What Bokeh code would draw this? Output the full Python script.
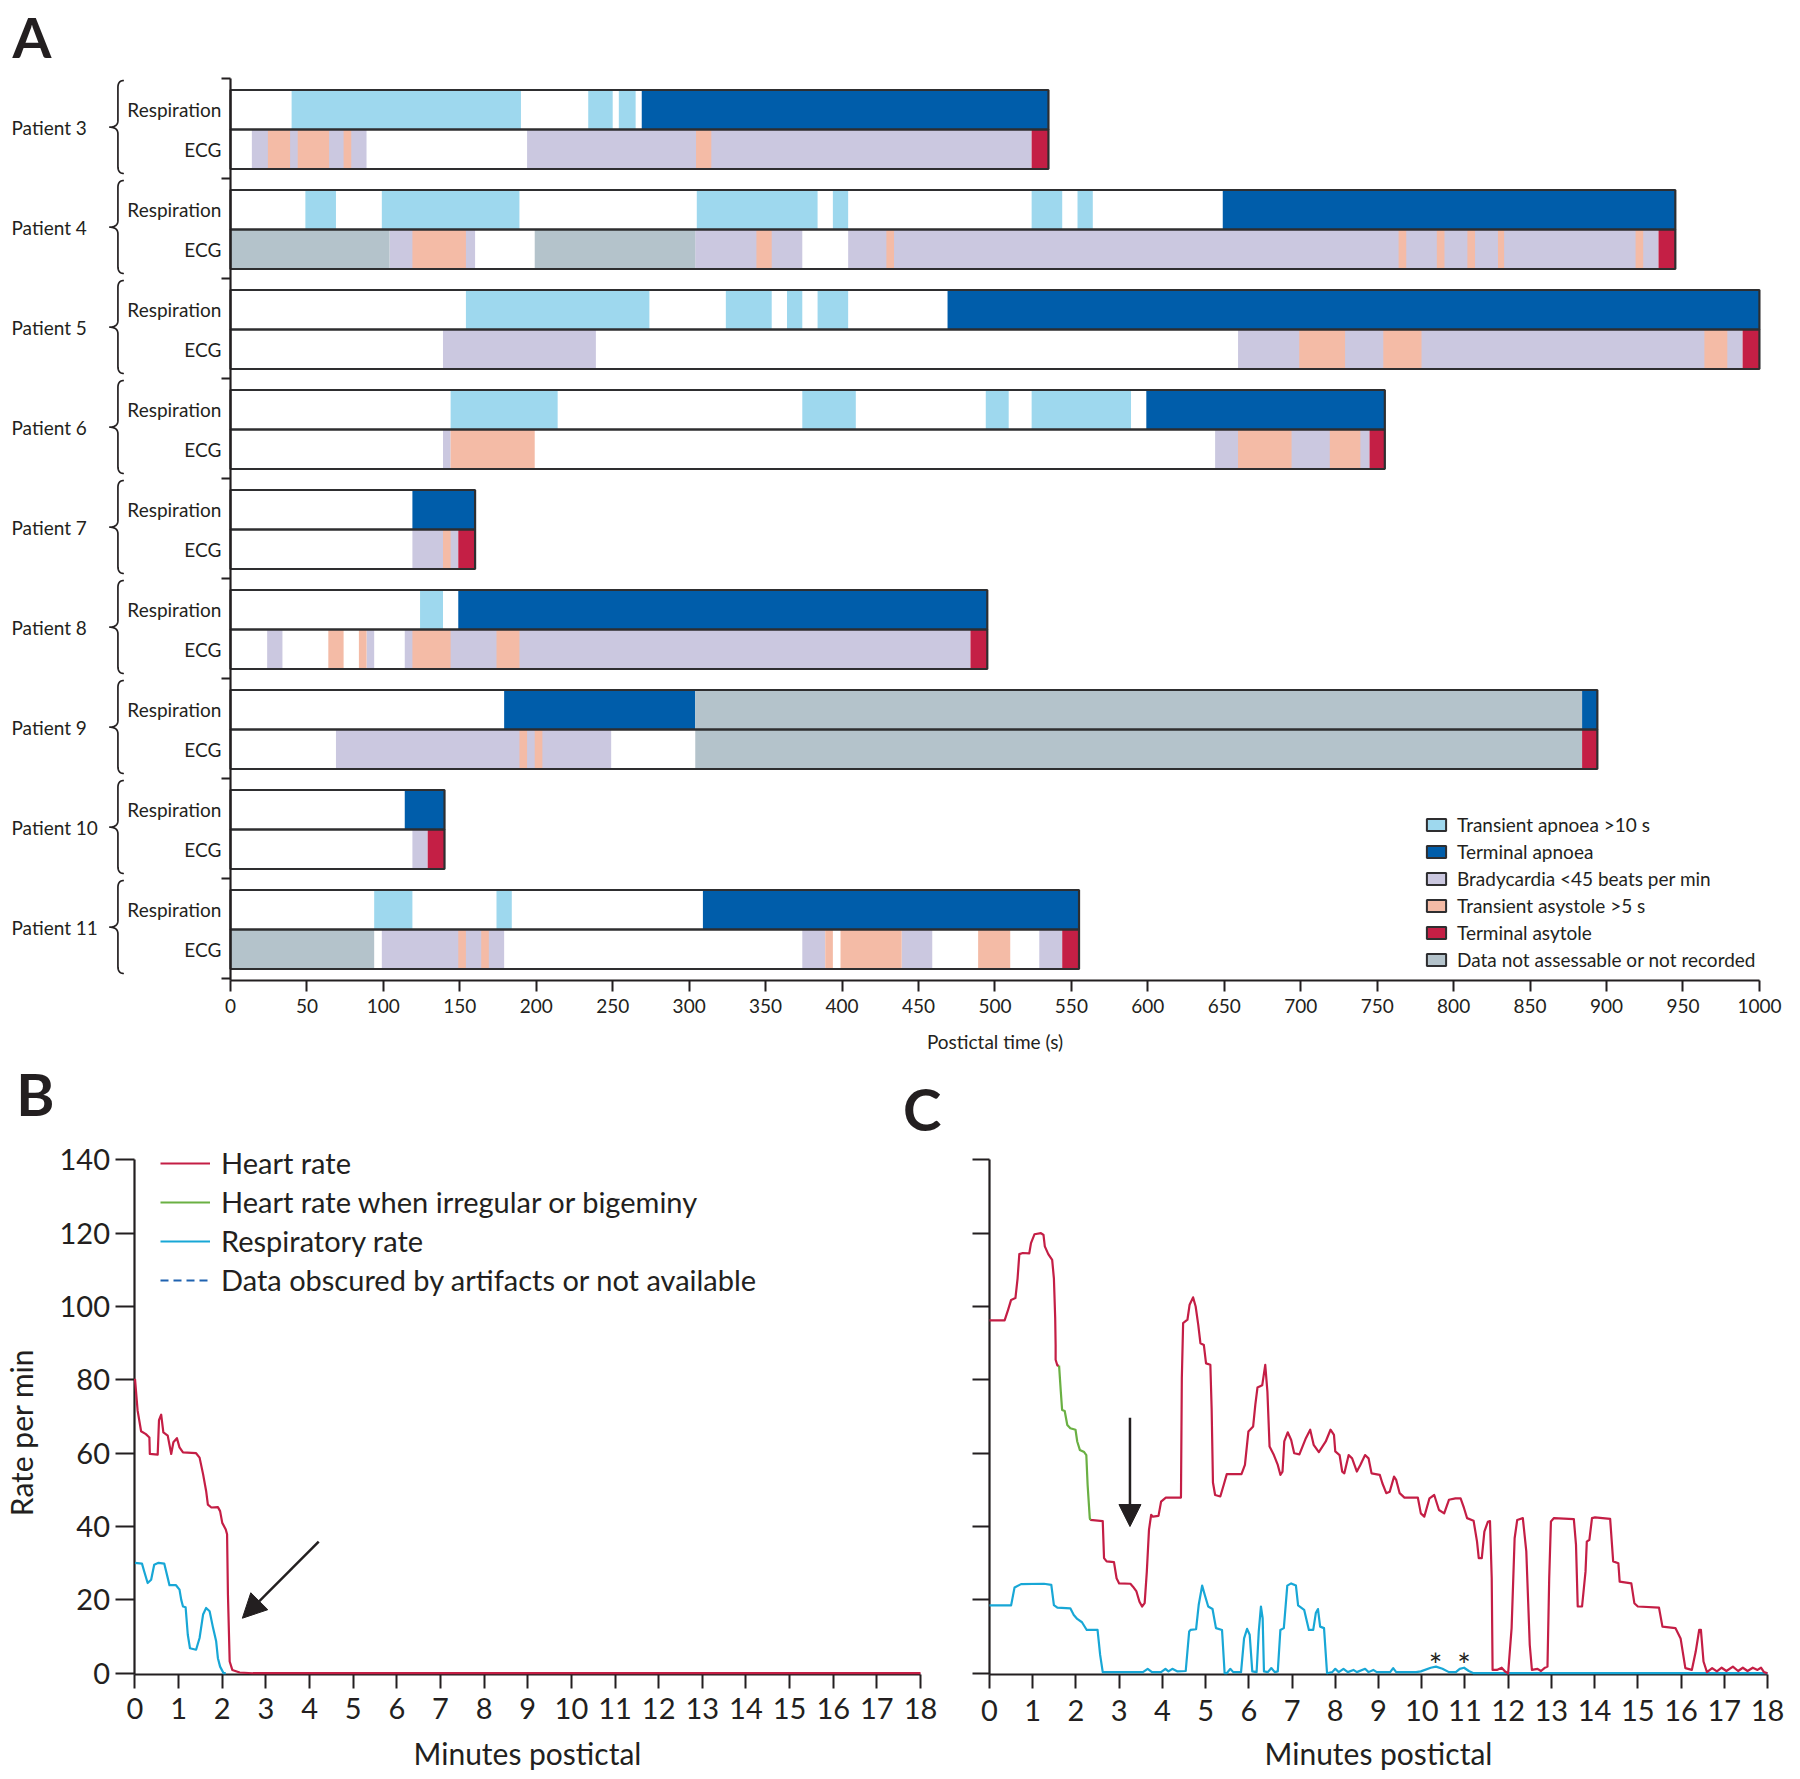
import numpy as np
from bokeh.plotting import figure
from bokeh.models import (Range1d, LinearAxis, FixedTicker, ColumnDataSource,
                          Legend, LegendItem, Arrow, NormalHead)
from bokeh.layouts import column, row
from bokeh.embed import file_html
from bokeh.resources import INLINE
from bokeh.core.properties import value

# ======================= DATA : panel A =======================
patient_ids = [3, 4, 5, 6, 7, 8, 9, 10, 11]
patient_labels = [f"Patient {i}" for i in patient_ids]
recording_end = [535, 945, 1000, 755, 160, 495, 894, 140, 555]  # s
row_labels = ["Respiration", "ECG"]
x_ticks_A = list(range(0, 1001, 50))

# (patient, row, start s, end s)   row 0 = respiration, row 1 = ECG
transient_apnoea = [
    (3, 0, 40, 190), (3, 0, 234, 250), (3, 0, 254, 265),
    (4, 0, 49, 69), (4, 0, 99, 189), (4, 0, 305, 384), (4, 0, 394, 404),
    (4, 0, 524, 544), (4, 0, 554, 564),
    (5, 0, 154, 274), (5, 0, 324, 354), (5, 0, 364, 374), (5, 0, 384, 404),
    (6, 0, 144, 214), (6, 0, 374, 409), (6, 0, 494, 509), (6, 0, 524, 589),
    (8, 0, 124, 139),
    (11, 0, 94, 119), (11, 0, 174, 184)]
terminal_apnoea = [
    (3, 0, 269, 535), (4, 0, 649, 945), (5, 0, 469, 1000), (6, 0, 599, 755),
    (7, 0, 119, 160), (8, 0, 149, 495), (9, 0, 179, 304), (9, 0, 884, 894),
    (10, 0, 114, 140), (11, 0, 309, 555)]
bradycardia = [
    (3, 1, 14, 89), (3, 1, 194, 524),
    (4, 1, 104, 160), (4, 1, 304, 374), (4, 1, 404, 934),
    (5, 1, 139, 239), (5, 1, 659, 989),
    (6, 1, 139, 144), (6, 1, 644, 745),
    (7, 1, 119, 149),
    (8, 1, 24, 34), (8, 1, 89, 94), (8, 1, 114, 484),
    (9, 1, 69, 249),
    (10, 1, 119, 129),
    (11, 1, 99, 179), (11, 1, 374, 389), (11, 1, 439, 459), (11, 1, 529, 544)]
transient_asystole = [
    (3, 1, 24.5, 39), (3, 1, 44, 64.5), (3, 1, 74, 79), (3, 1, 304.5, 314.5),
    (4, 1, 119, 154), (4, 1, 344, 354), (4, 1, 429, 434), (4, 1, 764, 769),
    (4, 1, 789, 794), (4, 1, 809, 814), (4, 1, 829, 833), (4, 1, 919, 924),
    (5, 1, 699, 729), (5, 1, 754, 779), (5, 1, 964, 979),
    (6, 1, 144, 199), (6, 1, 659, 694), (6, 1, 719, 739),
    (7, 1, 139, 144),
    (8, 1, 64, 74), (8, 1, 84, 89), (8, 1, 119, 144), (8, 1, 174, 189),
    (9, 1, 189, 194), (9, 1, 199, 204),
    (11, 1, 149, 154), (11, 1, 164, 169), (11, 1, 389, 394), (11, 1, 399, 439),
    (11, 1, 489, 510)]
terminal_asystole = [
    (3, 1, 524, 535), (4, 1, 934, 945), (5, 1, 989, 1000), (6, 1, 745, 755),
    (7, 1, 149, 160), (8, 1, 484, 495), (9, 1, 884, 894), (10, 1, 129, 140),
    (11, 1, 544, 555)]
not_assessable = [
    (4, 1, 0, 104), (4, 1, 199, 304), (9, 0, 304, 884), (9, 1, 304, 884),
    (11, 1, 0, 94)]

category_names = ["Transient apnoea >10 s", "Terminal apnoea",
                  "Bradycardia <45 beats per min", "Transient asystole >5 s",
                  "Terminal asytole", "Data not assessable or not recorded"]

# ======================= DATA : panels B and C =======================
minute_ticks = list(range(0, 19))
rate_ticks = list(range(0, 141, 20))

b_hr_t = [0, 0.06, 0.14, 0.25, 0.33, 0.34, 0.52, 0.55, 0.6, 0.65, 0.75, 0.83, 0.88,
          0.96, 1.02, 1.1, 1.4, 1.48, 1.56, 1.63, 1.67, 1.75, 1.9, 1.95, 2.0, 2.08,
          2.11, 2.13, 2.17, 2.23, 2.4, 2.7, 18]
b_hr_v = [80.3, 71.6, 66, 65.2, 64.3, 59.8, 59.6, 69, 70.5, 65.7, 64.8, 59.8, 63,
          64.1, 61.6, 60.2, 60, 58.8, 54.3, 49.7, 46, 45.2, 45.3, 44.2, 41, 39.2,
          37.9, 21.4, 3.2, 0.9, 0.2, 0, 0]
b_rr_t = [0, 0.16, 0.21, 0.29, 0.37, 0.44, 0.54, 0.67, 0.75, 0.79, 0.94, 1.02, 1.06,
          1.1, 1.16, 1.21, 1.26, 1.4, 1.48, 1.56, 1.63, 1.71, 1.79, 1.86, 1.9, 1.95,
          2.03, 2.08]
b_rr_v = [30.1, 29.9, 27.8, 24.6, 25.5, 29.6, 30.1, 29.9, 26, 24, 24, 22.8, 20,
          18.2, 18, 10.5, 6.8, 6.4, 9.6, 16, 17.8, 16.9, 12.3, 8.7, 4.1, 1.8,
          0, 0]

c_hr1_t = [0, 0.35, 0.43, 0.5, 0.6, 0.65, 0.69, 0.77, 0.92, 0.96, 1.04, 1.19, 1.25,
           1.28, 1.36, 1.45, 1.49, 1.52, 1.53, 1.53, 1.57, 1.61]
c_hr1_v = [96.2, 96.2, 99.1, 101.8, 102.3, 107.7, 114.3, 114.6, 114.5, 117.3, 119.7,
           120, 119.5, 116.4, 114.3, 112.7, 107.7, 96.8, 89.5, 85.5, 83.9, 83.9]
c_irr_t = [1.61, 1.65, 1.68, 1.74, 1.8, 1.87, 1.99, 2.03, 2.09, 2.19, 2.24, 2.27,
           2.32, 2.33]
c_irr_v = [83.9, 76.8, 71.8, 71.5, 67.7, 66.8, 66.4, 63.2, 60.9, 60.3, 59.5, 51.4,
           42.3, 41.8]
c_hr2_t = [2.33, 2.62, 2.65, 2.71, 2.88, 2.94, 3.0, 3.26, 3.32, 3.4, 3.47, 3.53,
           3.59, 3.64, 3.69, 3.74, 3.78, 3.91, 3.97, 4.08, 4.43, 4.45, 4.48, 4.58,
           4.63, 4.71, 4.77, 4.83, 4.88, 4.96, 5.01, 5.11, 5.14, 5.17, 5.22, 5.34,
           5.42, 5.49, 5.83, 5.91, 5.99, 6.1, 6.15, 6.2, 6.31, 6.38, 6.43, 6.48,
           6.58, 6.67, 6.73, 6.78, 6.82, 6.9, 6.98, 7.05, 7.17, 7.32, 7.42, 7.5,
           7.62, 7.78, 7.89, 7.97, 8.0, 8.1, 8.16, 8.21, 8.31, 8.39, 8.5, 8.58,
           8.69, 8.77, 8.84, 9.03, 9.09, 9.18, 9.26, 9.36, 9.41, 9.49, 9.6, 9.91,
           9.98, 10.06, 10.18, 10.29, 10.4, 10.52, 10.63, 10.78, 10.9, 10.98,
           11.05, 11.2, 11.28, 11.32, 11.39, 11.45, 11.53, 11.58, 11.62, 11.64,
           11.74, 11.85, 11.93, 12.0, 12.08, 12.15, 12.21, 12.34, 12.42, 12.5,
           12.55, 12.68, 12.76, 12.84, 12.91, 12.95, 12.99, 13.06, 13.52, 13.57,
           13.61, 13.71, 13.79, 13.82, 13.88, 13.94, 14.01, 14.36, 14.43, 14.55,
           14.58, 14.85, 14.92, 15.0, 15.49, 15.57, 15.87, 15.99, 16.1, 16.25,
           16.34, 16.42, 16.46, 16.52, 16.6, 16.72, 16.83, 16.94, 17.05, 17.2,
           17.32, 17.43, 17.54, 17.66, 17.77, 17.85, 17.92, 18.0]
c_hr2_v = [41.8, 41.5, 31.4, 30.5, 30.3, 25.9, 24.5, 24.4, 23.6, 22.3, 19.5, 18.2,
           19.1, 27.7, 39.1, 43.2, 42.7, 42.9, 46.8, 47.9, 47.9, 80.5, 95.5, 96.4,
           100.5, 102.5, 100, 95, 90, 89.5, 84.5, 84.1, 72, 52, 48.6, 48.2,
           51.4, 54.3, 54.3, 56.8, 65.9, 67.3, 73.2, 77.9, 78.5, 84.1, 76.8, 61.8,
           59.5, 56.8, 54.1, 55, 63.2, 65.7, 63.6, 60, 59.7, 64.1, 66.4, 62.3,
           60.3, 63.2, 66.4, 65, 60.5, 59.5, 55, 54.5, 59.5, 58.6, 55, 56.8,
           59.5, 58.6, 54.5, 54.1, 51.8, 49.1, 49.5, 53.6, 52.7, 49.1, 47.9, 47.9,
           43.6, 42.7, 47.7, 48.6, 44.5, 43.6, 47.3, 47.7, 47.7, 45,
           42.3, 41.6, 35.9, 31.4, 31.4, 38.6, 41.3, 41.5, 25.9, 0.9,
           0.9, 1.5, 0.45, 0, 12.3, 36.8, 41.8, 42.3, 33.2, 7.7,
           0.9, 1.2, 0.6, 1.4, 1.8, 25.9, 41.4, 42.3, 42, 35,
           18.2, 18.2, 27.7, 35.9, 36.4, 42.3, 42.5, 42.1, 30.5, 30,
           25, 24.5, 19.1, 18.2, 17.9, 12.7, 12.3, 9.5, 1.4, 0.9,
           5.9, 11.8, 11.8, 3.2, 0.3, 1.4, 0.5, 1.5, 0.6, 1.8,
           0.6, 1.5, 0.6, 1.5, 0.9, 1.5, 0.3, 0]
c_rr_t = [0, 0.5, 0.58, 0.73, 1.26, 1.43, 1.49, 1.57, 1.87, 1.95, 2.03, 2.14, 2.25,
          2.5, 2.56, 2.62, 3.55, 3.66, 3.76, 3.97, 4.07, 4.14, 4.23, 4.35, 4.54,
          4.62, 4.65, 4.78, 4.84, 4.92, 4.98, 5.06, 5.16, 5.24, 5.38, 5.44, 5.49,
          5.57, 5.64, 5.82, 5.89, 5.96, 6.02, 6.08, 6.18, 6.23, 6.28, 6.32, 6.35,
          6.44, 6.52, 6.6, 6.67, 6.73, 6.81, 6.89, 6.98, 7.09, 7.14, 7.28, 7.39,
          7.49, 7.55, 7.6, 7.65, 7.74, 7.81, 7.93, 8.0, 8.08, 8.19, 8.29, 8.42,
          8.5, 8.69, 8.77, 8.88, 8.96, 9.27, 9.34, 9.41, 9.87, 9.98, 10.21, 10.33,
          10.48, 10.63, 10.79, 10.88, 10.98, 11.09, 11.2, 18]
c_rr_v = [18.5, 18.5, 23.4, 24.3, 24.4, 24.1, 18.6, 17.9, 17.7, 15.9, 14.8, 13.9,
          11.8, 11.8, 5, 0.3, 0.3, 1.2, 0.3, 0.3, 1.2, 0.5, 1.2, 0.5, 0.6,
          11.4, 11.8, 12, 18.6, 23.9, 21.4, 18.2, 17.5, 12.3, 11.8, 0, 0,
          1.2, 0.3, 0.3, 9.5, 12.1, 10.5, 0.5, 0.3, 11.4, 18.2, 15, 0.5,
          0.3, 1.4, 0.3, 0.5, 11.8, 12.3, 23.9, 24.5, 23.9, 18.5, 17.3, 11.8,
          11.8, 16.4, 17.5, 12.7, 12.3, 0, 0.3, 1.2, 0.3, 1.2, 0.3, 0.9,
          0.3, 1.2, 0.3, 0.9, 0.3, 0.3, 1.4, 0.3, 0.3, 0.5, 1.5, 1.8,
          1.2, 0.3, 0.3, 1.2, 1.5, 0.6, 0, 0]
asterisk_t = [10.32, 10.98]

# ======================= STYLE =======================
FONT = "Lato"
INK = "#231f20"
ROW_INK = "#2e2e30"
category_colors = ["#9ED8EE", "#005DAA", "#CBC8E0", "#F4BBA6", "#C41F45", "#B4C3CB"]
HR_RED = "#C41E45"
IRR_GREEN = "#6AB043"
RR_CYAN = "#18A7D6"
DASH_BLUE = "#1F62B0"
NAN = [float("nan")]

ROW_TOP = [0.115, 0.51]
ROW_H = 0.395
A_AXIS_Y = 9.02

# ======================= PANEL A =======================
pA = figure(width=1784, height=1053, x_range=Range1d(-150.4, 1016.4),
            y_range=Range1d(9.75, -0.78), output_backend="svg",
            toolbar_location=None, x_axis_location=None, y_axis_location=None,
            min_border_left=0, min_border_right=0, min_border_top=0,
            min_border_bottom=0, outline_line_color=None,
            background_fill_color="white", border_fill_color="white")
pA.grid.visible = False

def row_top(pid, r):
    return patient_ids.index(pid) + ROW_TOP[r]

legend_items = []
cats = [transient_apnoea, terminal_apnoea, bradycardia, transient_asystole,
        terminal_asystole, not_assessable]
for name, color, segs in zip(category_names, category_colors, cats):
    src = ColumnDataSource(dict(
        left=[s[2] for s in segs], right=[s[3] for s in segs],
        top=[row_top(s[0], s[1]) for s in segs],
        bottom=[row_top(s[0], s[1]) + ROW_H for s in segs]))
    pA.quad(left="left", right="right", top="top", bottom="bottom", source=src,
            fill_color=color, line_color=None)
    key = pA.quad(left=NAN, right=NAN, top=NAN, bottom=NAN, fill_color=color,
                  line_color=ROW_INK, line_width=2)
    legend_items.append(LegendItem(label=name, renderers=[key]))

# row frames
fr = dict(left=[], right=[], top=[], bottom=[])
for i, end in enumerate(recording_end):
    for r in (0, 1):
        fr["left"].append(0)
        fr["right"].append(end)
        fr["top"].append(i + ROW_TOP[r])
        fr["bottom"].append(i + ROW_TOP[r] + ROW_H)
pA.quad(left="left", right="right", top="top", bottom="bottom",
        source=ColumnDataSource(fr), fill_color=None, line_color=ROW_INK,
        line_width=2.2)

# labels
idx = np.arange(len(patient_ids))
pA.text(x=[-143.2] * len(idx), y=list(idx + 0.487), text=patient_labels,
        text_font=value(FONT), text_font_size="19px", text_color=INK,
        text_align="left", text_baseline="middle")
pA.text(x=[-6] * len(idx), y=list(idx + 0.31), text=[row_labels[0]] * len(idx),
        text_font=value(FONT), text_font_size="19px", text_color=INK,
        text_align="right", text_baseline="middle")
pA.text(x=[-6] * len(idx), y=list(idx + 0.71), text=[row_labels[1]] * len(idx),
        text_font=value(FONT), text_font_size="19px", text_color=INK,
        text_align="right", text_baseline="middle")
pA.text(x=[-142.6], y=[-0.425], text=["A"], text_font=value(FONT),
        text_font_size="56px", text_font_style="bold", text_color=INK,
        text_align="left", text_baseline="middle")

# braces
def qbez(p0, c, p1, n=12):
    t = np.linspace(0, 1, n)
    x = (1 - t) ** 2 * p0[0] + 2 * (1 - t) * t * c[0] + t ** 2 * p1[0]
    y = (1 - t) ** 2 * p0[1] + 2 * (1 - t) * t * c[1] + t ** 2 * p1[1]
    return list(x), list(y)

X_END, X_BODY, X_TIP = -69.7, -73.6, -79.3
bxs, bys = [], []
for k in idx:
    xs, ys = [], []
    for seg in (qbez((X_END, k + 0.02), (X_BODY, k + 0.02), (X_BODY, k + 0.09)),
                ([X_BODY, X_BODY], [k + 0.09, k + 0.42]),
                qbez((X_BODY, k + 0.42), (X_BODY, k + 0.487), (X_TIP, k + 0.487)),
                qbez((X_TIP, k + 0.487), (X_BODY, k + 0.487), (X_BODY, k + 0.554)),
                ([X_BODY, X_BODY], [k + 0.554, k + 0.88]),
                qbez((X_BODY, k + 0.88), (X_BODY, k + 0.95), (X_END, k + 0.95))):
        xs += list(seg[0])
        ys += list(seg[1])
    bxs.append(xs)
    bys.append(ys)
pA.multi_line(xs=bxs, ys=bys, line_color=INK, line_width=1.7)

# axes (fixed in data space)
xa = LinearAxis(fixed_location=A_AXIS_Y, ticker=FixedTicker(ticks=x_ticks_A),
                bounds=(0, 1000), axis_label="Postictal time (s)",
                axis_label_text_font=FONT, axis_label_text_font_size="19px",
                axis_label_text_font_style="normal", axis_label_text_color=INK,
                axis_label_standoff=14, major_label_text_font=FONT,
                major_label_text_font_size="19px", major_label_text_color=INK,
                major_label_standoff=7, major_tick_out=11, major_tick_in=0,
                major_tick_line_width=2, major_tick_line_color=INK,
                minor_tick_line_color=None, axis_line_width=2.2,
                axis_line_color=INK)
pA.add_layout(xa, "below")
ya = LinearAxis(fixed_location=0,
                ticker=FixedTicker(ticks=[], minor_ticks=list(range(0, 10))),
                bounds=(0, A_AXIS_Y), axis_line_width=2.2, axis_line_color=INK,
                minor_tick_out=9, minor_tick_in=0, minor_tick_line_width=2.2,
                minor_tick_line_color=INK, major_tick_line_color=None)
pA.add_layout(ya, "left")

legA = Legend(items=legend_items, location=(1424, 82.5), orientation="vertical",
              glyph_width=24, glyph_height=15, label_standoff=9, spacing=4,
              padding=0, margin=0, border_line_color=None,
              background_fill_alpha=0, label_text_font=FONT,
              label_text_font_size="19px", label_text_color=INK, label_height=15)
pA.add_layout(legA)

# ======================= PANELS B and C =======================
Y_LO, Y_HI = -26.8, 169.0     # full figure height (718 px)
X_AXIS_Y = -0.35

def minute_axis(xal_standoff, xl_standoff):
    return LinearAxis(fixed_location=X_AXIS_Y, ticker=FixedTicker(ticks=minute_ticks),
                      bounds=(0, 18), axis_label="Minutes postictal",
                      axis_label_text_font=FONT, axis_label_text_font_size="30px",
                      axis_label_text_font_style="normal", axis_label_text_color=INK,
                      axis_label_standoff=xal_standoff, major_label_text_font=FONT,
                      major_label_text_font_size="29px", major_label_text_color=INK,
                      major_label_standoff=xl_standoff, major_tick_out=14,
                      major_tick_in=0, major_tick_line_width=2,
                      major_tick_line_color=INK, minor_tick_line_color=None,
                      axis_line_width=2.2, axis_line_color=INK)

def panel(width, x_lo, x_hi):
    p = figure(width=width, height=718, x_range=Range1d(x_lo, x_hi),
               y_range=Range1d(Y_LO, Y_HI), output_backend="svg",
               toolbar_location=None, x_axis_location=None, y_axis_location=None,
               min_border_left=0, min_border_right=0, min_border_top=0,
               min_border_bottom=0, outline_line_color=None,
               background_fill_color="white", border_fill_color="white")
    p.grid.visible = False
    return p

# --- B
pB = panel(945, -3.082, 18.573)
pB.add_layout(minute_axis(13, 9), "below")
yb = LinearAxis(fixed_location=0, ticker=FixedTicker(ticks=rate_ticks),
                bounds=(X_AXIS_Y, 140), axis_line_width=2.2, axis_line_color=INK,
                major_tick_out=19, major_tick_in=0, major_tick_line_width=2,
                major_tick_line_color=INK, minor_tick_line_color=None,
                major_label_text_font=FONT, major_label_text_font_size="29px",
                major_label_text_color=INK, major_label_standoff=6)
pB.add_layout(yb, "left")
# axis title carried by a tick-less companion axis so it can sit where the original does
yb_title = LinearAxis(fixed_location=0, ticker=FixedTicker(ticks=[]),
                      bounds=(-8.8, 140), axis_line_color=None,
                      major_tick_line_color=None, minor_tick_line_color=None,
                      axis_label="Rate per min", axis_label_text_font=FONT,
                      axis_label_text_font_size="30px",
                      axis_label_text_font_style="normal",
                      axis_label_text_color=INK, axis_label_standoff=96)
pB.add_layout(yb_title, "left")

rb_rr = pB.line(b_rr_t, b_rr_v, line_color=RR_CYAN, line_width=2.2, line_join="round",
                level="overlay")
rb_hr = pB.line(b_hr_t, b_hr_v, line_color=HR_RED, line_width=2.2, line_join="round",
                level="overlay")
rb_irr = pB.line(NAN, NAN, line_color=IRR_GREEN, line_width=2.2)
rb_na = pB.line(NAN, NAN, line_color=DASH_BLUE, line_width=2.2, line_dash="8 5")

legB = Legend(items=[LegendItem(label="Heart rate", renderers=[rb_hr]),
                     LegendItem(label="Heart rate when irregular or bigeminy", renderers=[rb_irr]),
                     LegendItem(label="Respiratory rate", renderers=[rb_rr]),
                     LegendItem(label="Data obscured by artifacts or not available", renderers=[rb_na])],
              location=(160, 474), glyph_width=50, glyph_height=20, label_standoff=11,
              spacing=4, padding=0, margin=0, border_line_color=None,
              background_fill_alpha=0, label_text_font=FONT,
              label_text_font_size="29px", label_text_color=INK)
pB.add_layout(legB)
pB.add_layout(Arrow(end=NormalHead(size=24, fill_color=INK, line_color=INK),
                    x_start=4.21, y_start=35.9, x_end=2.46, y_end=15.0,
                    line_width=2.5, line_color=INK))
pB.text(x=[-2.72, 17.60], y=[158.1, 154.0], text=["B", "C"], text_font=value(FONT),
        text_font_size="58px", text_font_style="bold", text_color=INK,
        text_align="left", text_baseline="middle")

# --- C
pC = panel(839, -1.018, 18.394)
pC.add_layout(minute_axis(11, 11), "below")
yc = LinearAxis(fixed_location=0, ticker=FixedTicker(ticks=[], minor_ticks=rate_ticks),
                bounds=(X_AXIS_Y, 140), axis_line_width=2.2, axis_line_color=INK,
                major_tick_line_color=None, minor_tick_out=17, minor_tick_in=0,
                minor_tick_line_width=2, minor_tick_line_color=INK)
pC.add_layout(yc, "left")

pC.line(c_rr_t, c_rr_v, line_color=RR_CYAN, line_width=2.2, line_join="round",
        level="overlay")
pC.line(c_hr1_t, c_hr1_v, line_color=HR_RED, line_width=2.2, line_join="round",
        level="overlay")
pC.line(c_hr2_t, c_hr2_v, line_color=HR_RED, line_width=2.2, line_join="round",
        level="overlay")
pC.line(c_irr_t, c_irr_v, line_color=IRR_GREEN, line_width=2.2, line_join="round",
        level="overlay")
pC.text(x=asterisk_t, y=[2.3, 2.3], text=["*", "*"], text_font=value(FONT),
        text_font_size="32px", text_color=INK, text_align="center",
        text_baseline="middle")
pC.add_layout(Arrow(end=NormalHead(size=22, fill_color=INK, line_color=INK),
                    x_start=3.25, y_start=69.7, x_end=3.25, y_end=40.0,
                    line_width=2.5, line_color=INK))

layout = column(pA, row(pB, pC))
open("out.html", "w").write(file_html(layout, INLINE))
